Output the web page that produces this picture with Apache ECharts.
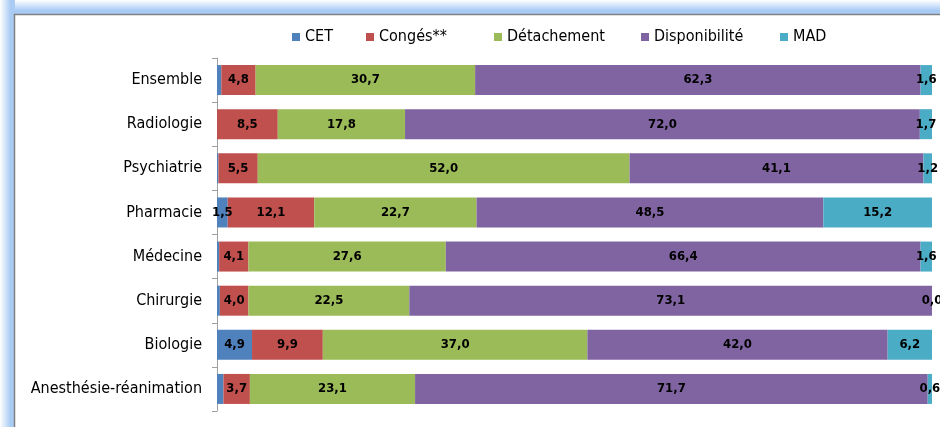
<!DOCTYPE html>
<html>
<head>
<meta charset="utf-8">
<script src="https://cdn.jsdelivr.net/npm/echarts@6/dist/echarts.min.js"></script>
<style>
  html, body { margin: 0; padding: 0; background: #fff; }
  #chart { width: 940px; height: 427px; }
</style>
</head>
<body>
<div id="chart"></div>
<script>
// catégories (de haut en bas)
const categories = ['Ensemble', 'Radiologie', 'Psychiatrie', 'Pharmacie', 'Médecine', 'Chirurgie', 'Biologie', 'Anesthésie-réanimation'];

// parts en % par position
const cet = [0.6, 0.0, 0.2, 1.5, 0.3, 0.4, 4.9, 0.9];
const conges = [4.8, 8.5, 5.5, 12.1, 4.1, 4.0, 9.9, 3.7];
const detachement = [30.7, 17.8, 52.0, 22.7, 27.6, 22.5, 37.0, 23.1];
const disponibilite = [62.3, 72.0, 41.1, 48.5, 66.4, 73.1, 42.0, 71.7];
const mad = [1.6, 1.7, 1.2, 15.2, 1.6, 0.0, 6.2, 0.6];

const seriesNames = ['CET', 'Congés**', 'Détachement', 'Disponibilité', 'MAD'];
const seriesData = [cet, conges, detachement, disponibilite, mad];
const colors = ['#4f81bd', '#c0504d', '#9bbb59', '#8064a2', '#4bacc6'];

// position x de chaque entrée de légende
const legendLeft = [292, 366, 494, 641, 780];

const font = "'DejaVu Sans Condensed', 'DejaVu Sans', sans-serif";

function fmt(v) {
  return v.toFixed(1).replace('.', ',');
}

const chart = echarts.init(document.getElementById('chart'));
chart.setOption({
  animation: false,
  color: colors,
  graphic: [
    {
      type: 'rect', z: -10, silent: true,
      shape: { x: 0, y: 0, width: 940, height: 15 },
      style: {
        fill: new echarts.graphic.LinearGradient(0, 0, 0, 1, [
          { offset: 0, color: '#ffffff' },
          { offset: 0.7, color: '#a9cbf4' },
          { offset: 1, color: '#a9cbf4' }
        ])
      }
    },
    {
      type: 'rect', z: -10, silent: true,
      shape: { x: 0, y: 0, width: 15, height: 427 },
      style: {
        fill: new echarts.graphic.LinearGradient(0, 0, 1, 0, [
          { offset: 0, color: '#ffffff' },
          { offset: 0.7, color: '#a9cbf4' },
          { offset: 1, color: '#a9cbf4' }
        ])
      }
    },
    {
      type: 'rect', z: -9, silent: true,
      shape: { x: 14.5, y: 14.5, width: 940, height: 440 },
      style: { fill: '#ffffff', stroke: '#808080', lineWidth: 1.5 }
    }
  ],
  legend: seriesNames.map((name, i) => ({
    top: 29,
    left: legendLeft[i],
    padding: 0,
    itemWidth: 8,
    itemHeight: 8,
    icon: 'rect',
    textStyle: { fontFamily: font, fontSize: 16, color: '#000' },
    data: [name]
  })),
  grid: {
    left: 217,
    right: 8,
    top: 58,
    bottom: 16
  },
  xAxis: {
    type: 'value',
    min: 0,
    max: 100,
    show: false
  },
  yAxis: {
    type: 'category',
    inverse: true,
    data: categories,
    axisLine: { show: true, lineStyle: { color: '#a0a0a0', width: 1 } },
    axisTick: { show: true, length: 5, lineStyle: { color: '#a0a0a0' } },
    axisLabel: {
      fontFamily: font,
      fontSize: 16,
      color: '#000',
      margin: 15
    }
  },
  series: seriesNames.map((name, i) => ({
    name: name,
    type: 'bar',
    stack: 'total',
    barWidth: 30,
    data: seriesData[i],
    label: {
      show: true,
      position: 'inside',
      fontFamily: font,
      fontSize: 13,
      fontWeight: 'bold',
      color: '#000',
      formatter: p => (i === 0 && p.value < 1) ? '' : fmt(p.value)
    }
  }))
});
</script>
</body>
</html>
